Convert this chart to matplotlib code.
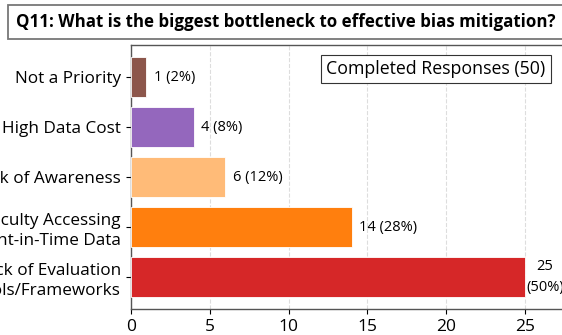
import matplotlib.pyplot as plt

plt.rcParams['font.family'] = ['Open Sans', 'DejaVu Sans']

# data (bottom to top)
categories = ['Lack of Evaluation\nTools/Frameworks',
              'Difficulty Accessing\nPoint-in-Time Data',
              'Lack of Awareness',
              'High Data Cost',
              'Not a Priority']
counts = [25, 14, 6, 4, 1]
total = 50
colors = ['#d62728', '#ff7f0e', '#ffbb78', '#9467bd', '#8c564b']

fig = plt.figure(figsize=(5.62, 3.35), dpi=100)
ax = fig.add_axes([130.7/562, 26/335, 442/562, 264/335])

bars = ax.barh(range(len(categories)), counts, height=0.8, color=colors,
               edgecolor='white', linewidth=0.6, zorder=3)
ax.set_yticks(range(len(categories)))
ax.set_yticklabels(categories, fontsize=12.3, linespacing=1.35)
ax.set_xlim(0, 28)
ax.set_xticks([0, 5, 10, 15, 20, 25])
ax.tick_params(axis='x', labelsize=12.5)
ax.grid(axis='x', linestyle='--', color='#dddddd', linewidth=0.8, zorder=0)

for s in ax.spines.values():
    s.set_color('#555555')
    s.set_linewidth(1)

for i, v in enumerate(counts):
    pct = round(100 * v / total)
    if v > 20:
        ax.text(v + 0.05, i, f"{v}\n({pct}%)", ha='left', va='center',
                multialignment='center', fontsize=10.5, linespacing=1.5)
    else:
        ax.text(v + 0.45, i, f"{v} ({pct}%)", ha='left', va='center', fontsize=10.5)

ax.text(326/562, 1 - 69/335, 'Completed Responses (50)', transform=fig.transFigure,
        ha='left', va='center', fontsize=12.8,
        bbox=dict(boxstyle='square,pad=0.3', facecolor='white',
                  edgecolor='#333333', linewidth=0.8), zorder=5)

fig.text(16/562, 1 - 22/335, 'Q11: What is the biggest bottleneck to effective bias mitigation?     ',
         ha='left', va='center', fontsize=12.2, fontweight='bold',
         bbox=dict(boxstyle='square,pad=0.45', facecolor='white',
                   edgecolor='#777777', linewidth=1.3))

fig.savefig('out.png', dpi=100)
